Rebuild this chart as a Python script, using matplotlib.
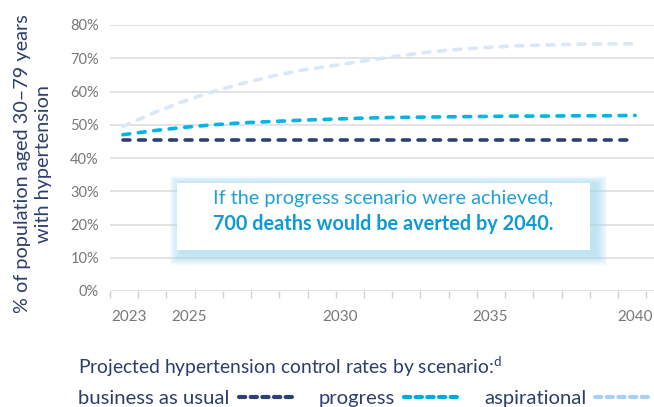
import matplotlib
matplotlib.use("Agg")
import matplotlib.pyplot as plt
import matplotlib.transforms as mtransforms
import numpy as np
from matplotlib.lines import Line2D
from matplotlib.patches import Rectangle

# ---------------- data ----------------
years = [2023, 2024, 2025, 2026, 2027, 2028, 2029, 2030, 2031,
         2032, 2033, 2034, 2035, 2036, 2037, 2038, 2039, 2040]
business_as_usual = [45.5, 45.5, 45.5, 45.5, 45.5, 45.5, 45.5, 45.5, 45.5,
                     45.5, 45.5, 45.5, 45.5, 45.5, 45.5, 45.5, 45.5, 45.5]
progress = [47.0, 48.2, 49.2, 50.0, 50.6, 51.0, 51.4, 51.7, 52.0,
            52.2, 52.3, 52.4, 52.5, 52.6, 52.6, 52.7, 52.7, 52.8]
aspirational = [49.5, 53.5, 57.0, 60.0, 62.5, 64.7, 66.5, 67.8, 69.2,
                70.5, 71.7, 72.6, 73.2, 73.7, 74.0, 74.2, 74.3, 74.4]
xtick_years = [2023, 2025, 2030, 2035, 2040]
ytick_values = [0, 10, 20, 30, 40, 50, 60, 70, 80]
series_labels = ["business as usual", "progress", "aspirational"]
line_colors = ["#2c4170", "#00b4e4", "#d9e7f6"]
legend_colors = ["#2c4170", "#00a9e0", "#a8d0ef"]

ylabel_text = "% of population aged 30\u201379 years\nwith hypertension"
legend_title = "Projected hypertension control rates by scenario:$^{\\mathrm{d}}$"
box_line1 = "If the progress scenario were achieved,"
box_line2 = "700 deaths would be averted by 2040."

# ---------------- style ----------------
plt.rcParams['font.family'] = ['Lato', 'DejaVu Sans']
plt.rcParams['mathtext.fontset'] = 'custom'
plt.rcParams['mathtext.rm'] = 'Lato'
plt.rcParams['mathtext.it'] = 'Lato:italic'
plt.rcParams['mathtext.bf'] = 'Lato:bold'

W, H = 654, 407
fig = plt.figure(figsize=(W / 100, H / 100), dpi=100)
fig.patch.set_facecolor("white")

ax = fig.add_axes([110 / W, 1 - 291 / H, 544 / W, 266 / H])
ax.set_xlim(2022.57, 2040.63)
ax.set_ylim(0, 80)

for s in ax.spines.values():
    s.set_visible(False)

ax.set_yticks(ytick_values)
ax.set_yticklabels([f"{v}%" for v in ytick_values])
ax.yaxis.grid(True, color="#e3e3e3", lw=1.4, zorder=0)
ax.set_axisbelow(True)
ax.tick_params(axis="y", length=0, pad=8, labelsize=10.5, labelcolor="#777777")

ax.set_xticks(xtick_years)
ax.set_xticklabels([str(y) for y in xtick_years])
ax.tick_params(axis="x", which="major", length=0, pad=14, labelsize=11,
               labelcolor="#777777")
labels = ax.get_xticklabels()
for lab in labels[:-1]:
    shift = mtransforms.ScaledTranslation(6 / 100, 0, fig.dpi_scale_trans)
    lab.set_transform(lab.get_transform() + shift)
minor_step = 0.937
ax.set_xticks(np.arange(2022.57, 2040.7, minor_step), minor=True)
ax.tick_params(axis="x", which="minor", length=5, width=1, color="#d0d0d0")

# ---------------- lines ----------------
series = [business_as_usual, progress, aspirational]
for vals, col in zip(series[::-1], line_colors[::-1]):
    ax.plot(years, vals, color=col, lw=2.6, dashes=(1.9, 2.4),
            dash_capstyle="round", solid_capstyle="round", zorder=3,
            clip_on=False)

# ---------------- callout box ----------------
ox0, ox1, oy0, oy1 = 0.110, 0.914, 0.098, 0.432
ix0, ix1, iy0, iy1 = 0.123, 0.882, 0.154, 0.406
n = 10
for i in range(n):
    t = i / (n - 1)
    x0 = ox0 + (ix0 + 0.006 - ox0) * t
    x1 = ox1 + (ix1 + 0.012 - ox1) * t
    y0 = oy0 + (iy0 - 0.02 - oy0) * t
    y1 = oy1 + (iy1 - oy1) * t
    ax.add_patch(Rectangle((x0, y0), x1 - x0, y1 - y0, transform=ax.transAxes,
                           facecolor="#9fd8f0", edgecolor="none", alpha=0.09,
                           zorder=4))
ax.add_patch(Rectangle((ix0, iy0), ix1 - ix0, iy1 - iy0, transform=ax.transAxes,
                       facecolor="white", edgecolor="none", zorder=5))
cx = (ix0 + ix1) / 2
ax.text(cx, 0.346, box_line1, transform=ax.transAxes, ha="center", va="center",
        fontsize=14.3, color="#1ea0d8", zorder=6)
ax.text(cx, 0.252, box_line2, transform=ax.transAxes, ha="center", va="center",
        fontsize=14.3, fontweight="bold", color="#0e9ad5", zorder=6)

# ---------------- y label ----------------
fig.text(33 / W, 1 - 164 / H, ylabel_text, rotation=90, ha="center", va="center",
         multialignment="center", fontsize=14.3, color="#2c3e6b", linespacing=1.25)

# ---------------- legend ----------------
fig.text(78 / W, 1 - 367 / H, legend_title, ha="left", va="center",
         fontsize=13.9, color="#2c3e6b")
handles = [Line2D([0], [0], color=c, lw=3, dashes=(1.5, 1.3),
                  dash_capstyle="round") for c in legend_colors]
fig.legend(handles, series_labels, ncol=3, markerfirst=False, frameon=False,
           loc="center left", bbox_to_anchor=(78 / W, 1 - 398 / H),
           borderaxespad=0, borderpad=0, fontsize=14.6, labelcolor="#2c3e6b",
           handlelength=2.8, handletextpad=0.45, columnspacing=1.15)

fig.savefig("out.png", dpi=100, facecolor="white")
